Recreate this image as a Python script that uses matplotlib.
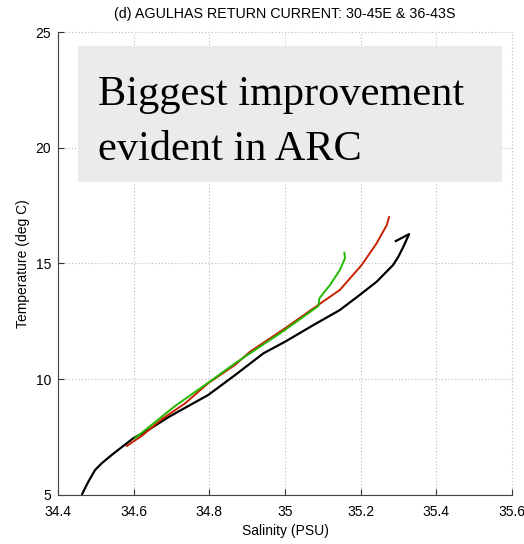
import matplotlib.pyplot as plt
from matplotlib.patches import Rectangle

plt.rcParams['font.family'] = ['Liberation Sans', 'DejaVu Sans']

# T-S profiles (salinity in PSU, temperature in deg C)
black_s = [34.464, 34.480, 34.498, 34.5155, 34.542, 34.568, 34.599, 34.639,
           34.6915, 34.744, 34.797, 34.868, 34.943, 35.000, 35.075, 35.145,
           35.203, 35.242, 35.286, 35.2995, 35.313, 35.328, 35.293]
black_t = [5.05, 5.57, 6.08, 6.37, 6.73, 7.06, 7.45, 7.81,
           8.36, 8.84, 9.32, 10.18, 11.12, 11.62, 12.34, 12.99,
           13.71, 14.21, 14.94, 15.29, 15.73, 16.27, 15.97]

red_s = [34.582, 34.621, 34.674, 34.736, 34.797, 34.868, 34.9075, 35.000,
         35.088, 35.145, 35.203, 35.242, 35.269, 35.275]
red_t = [7.12, 7.55, 8.27, 8.96, 9.83, 10.62, 11.19, 12.20,
         13.21, 13.86, 14.94, 15.87, 16.66, 17.00]

green_s = [34.6035, 34.709, 34.797, 34.868, 35.000, 35.088, 35.091, 35.119,
           35.145, 35.1585, 35.157]
green_t = [7.45, 8.84, 9.85, 10.69, 12.13, 13.16, 13.50, 14.07,
           14.72, 15.22, 15.47]

x_ticks = [34.4, 34.6, 34.8, 35, 35.2, 35.4, 35.6]
x_labels = ['34.4', '34.6', '34.8', '35', '35.2', '35.4', '35.6']
y_ticks = [5, 10, 15, 20, 25]

fig = plt.figure(figsize=(5.24, 5.44), dpi=100)
ax = fig.add_axes([58 / 524, 49 / 544, 454 / 524, 463 / 544])

ax.plot(black_s, black_t, color='black', lw=1.6, zorder=3)
ax.plot(red_s, red_t, color='#c82000', lw=1.4, zorder=4)
ax.plot(green_s, green_t, color='#22b800', lw=1.4, zorder=5)

ax.set_xlim(34.4, 35.6)
ax.set_ylim(5, 25)
ax.set_xticks(x_ticks)
ax.set_xticklabels(x_labels)
ax.set_yticks(y_ticks)
ax.tick_params(direction='in', length=4, width=0.8, labelsize=10,
               colors='#333333', labelcolor='black')
ax.tick_params(axis='x', pad=7)
ax.tick_params(axis='y', pad=5)
ax.set_axisbelow(True)
ax.grid(True, linestyle=(0, (1, 2)), color='#bbbbbb', lw=0.8)
for g in ax.get_xgridlines() + ax.get_ygridlines():
    g.set_clip_on(False)
ax.spines['top'].set_visible(False)
ax.spines['right'].set_visible(False)
ax.spines['left'].set_color('#444444')
ax.spines['bottom'].set_color('#444444')

ax.set_xlabel('Salinity (PSU)', fontsize=10, labelpad=4)
ax.set_ylabel('Temperature (deg C)', fontsize=10, labelpad=4)
ax.set_title('(d) AGULHAS RETURN CURRENT: 30-45E & 36-43S', fontsize=10.3, pad=10)

# annotation box
ax.add_patch(Rectangle((20 / 454, 313 / 463), 424 / 454, 136 / 463,
                       transform=ax.transAxes, facecolor='#ebebeb',
                       edgecolor='none', zorder=2))
ax.text(40 / 454, 390 / 463, 'Biggest improvement', transform=ax.transAxes,
        family='Liberation Serif', fontsize=30.5, va='baseline', zorder=6)
ax.text(40 / 454, 335 / 463, 'evident in ARC', transform=ax.transAxes,
        family='Liberation Serif', fontsize=30.5, va='baseline', zorder=6)

fig.savefig('out.png', dpi=100)
